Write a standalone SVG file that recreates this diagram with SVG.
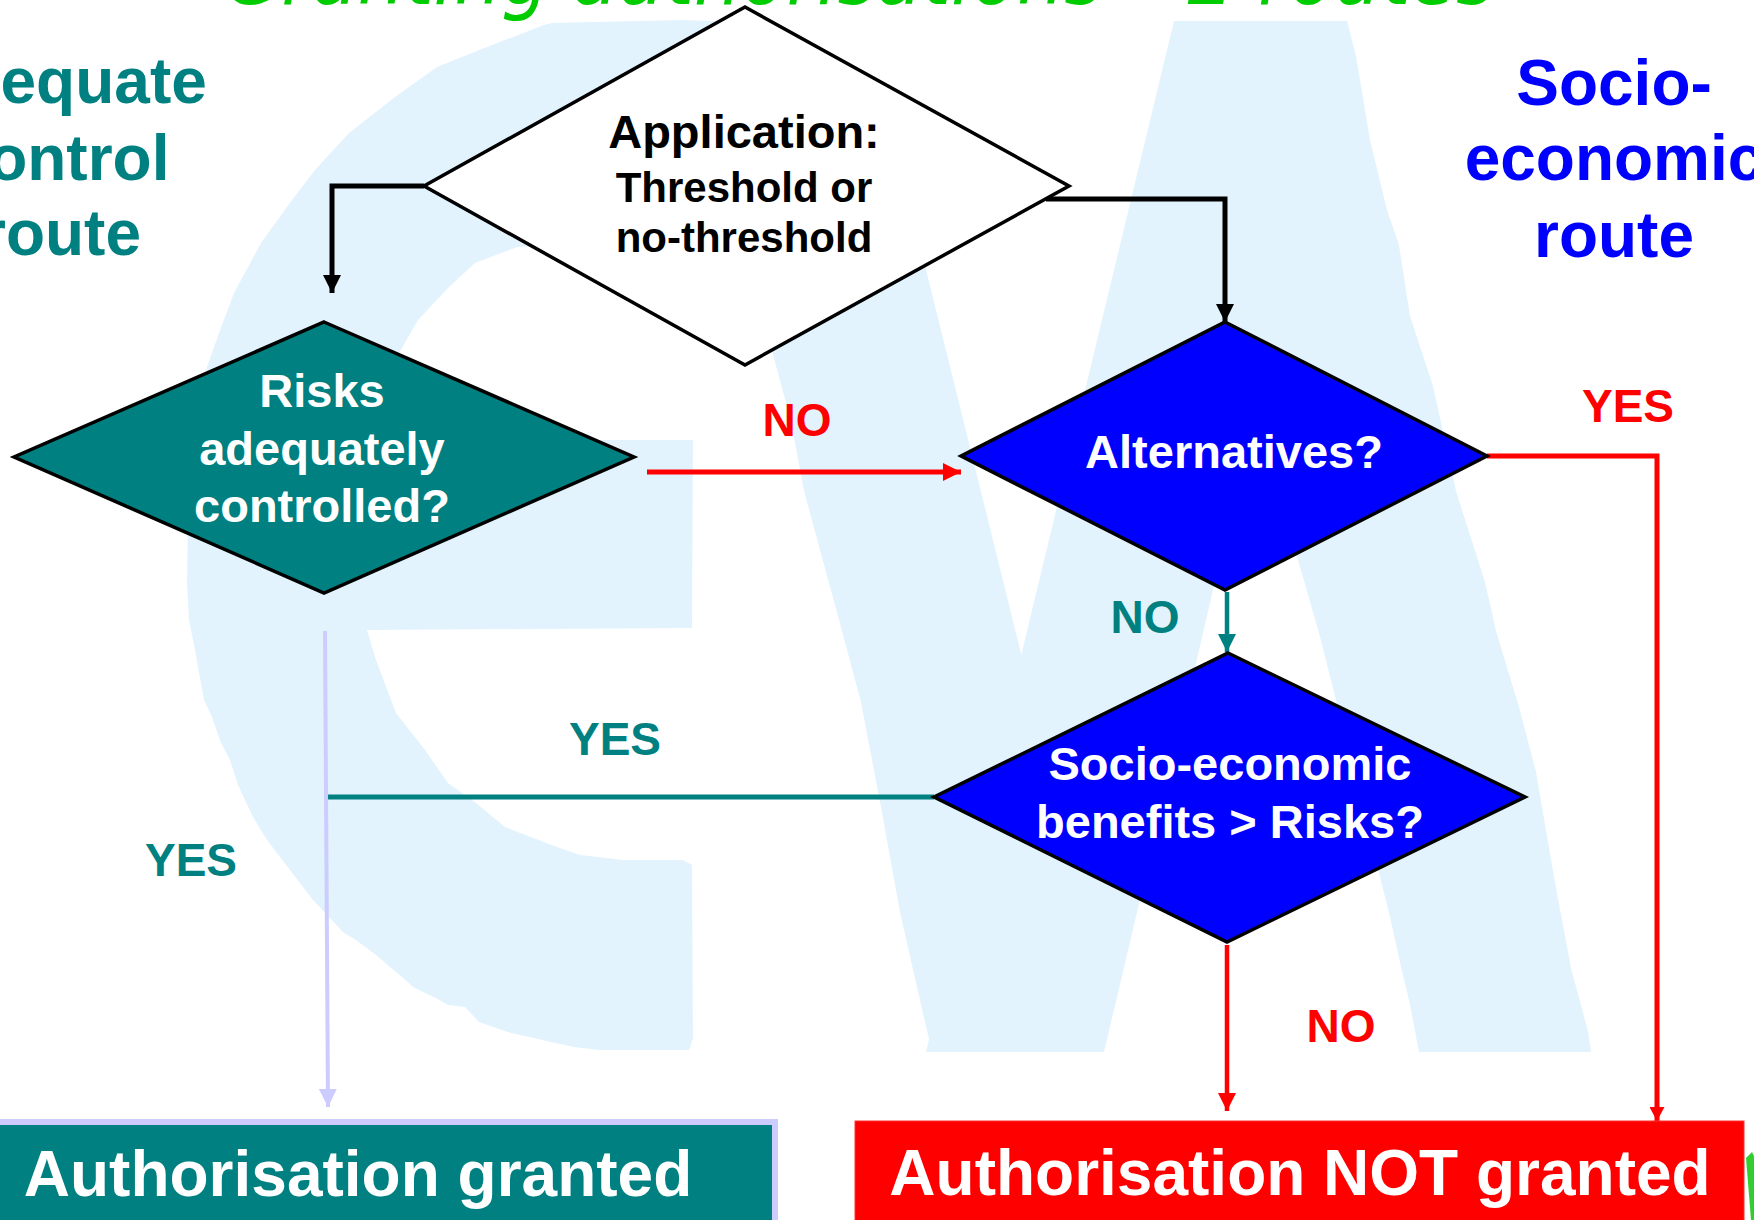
<svg xmlns="http://www.w3.org/2000/svg" width="1754" height="1220" viewBox="0 0 1754 1220">
<defs>
<style>
.t{font-family:"Liberation Sans",Arial,sans-serif;font-weight:bold;text-anchor:middle}
.lab{font-size:46px}
.dt{font-size:47px;fill:#ffffff}
.big{font-size:64px}
.wm{fill:#E2F3FD}
.dia{stroke:#000;stroke-width:3.5;stroke-linejoin:miter}
.c{fill:none}
</style>
<marker id="ab" viewBox="0 0 18 18" refX="18" refY="9" markerWidth="18" markerHeight="18" markerUnits="userSpaceOnUse" orient="auto"><path d="M0,0 L18,9 L0,18 z" fill="#000"/></marker>
<marker id="ar" viewBox="0 0 18 18" refX="18" refY="9" markerWidth="18" markerHeight="18" markerUnits="userSpaceOnUse" orient="auto"><path d="M0,0 L18,9 L0,18 z" fill="#FF0000"/></marker>
<marker id="ar2" viewBox="0 0 14 15" refX="14" refY="7.5" markerWidth="14" markerHeight="15" markerUnits="userSpaceOnUse" orient="auto"><path d="M0,0 L14,7.5 L0,15 z" fill="#FF0000"/></marker>
<marker id="at" viewBox="0 0 18 18" refX="18" refY="9" markerWidth="18" markerHeight="18" markerUnits="userSpaceOnUse" orient="auto"><path d="M0,0 L18,9 L0,18 z" fill="#008080"/></marker>
<marker id="al" viewBox="0 0 18 18" refX="18" refY="9" markerWidth="18" markerHeight="18" markerUnits="userSpaceOnUse" orient="auto"><path d="M0,0 L18,9 L0,18 z" fill="#CCCCFF"/></marker>
</defs>
<rect x="0" y="0" width="1754" height="1220" fill="#ffffff"/>

<g id="watermark">
<polygon class="wm" points="740,22 682,20 552,23 544,25 487,47 437,67 395,97 349,133 315,170 292,200 261,243 234,293 219,333 207,367 189,467 187,583 189,620 195,650 204,700 212,717 221,743 230,760 238,785 253,817 267,840 313,900 344,933 356,940 376,955 390,967 402,977 413,987 425,993 436,998 448,1005 465,1007 479,1022 511,1033 534,1038 551,1042 574,1047 600,1050 689,1050 693,1038 692,865 683,860 623,860 580,855 557,847 505,827 476,803 448,783 425,750 396,713 376,660 367,630 692,628 693,440 380,440 385,400 399,353 418,320 449,287 475,263 517,247 560,245 740,100"/>
<polygon class="wm" points="715,100 884,100 1040,730 1000,1052 932,1052 919,996 900,912 881,807 861,702 842,631 823,561 804,491 791,421 772,351"/>
<polygon class="wm" points="1174,21 1347,21 1356,56 1370,140 1387,210 1399,245 1410,316 1433,386 1456,491 1485,582 1496,631 1519,707 1536,772 1554,877 1571,968 1588,1031 1591,1052 1419,1052 1409,1000 1401,967 1390,917 1379,873 1336,700 1319,633 1298,560 1257,400 1197,659 1104,1052 926,1052 1021,656"/>
</g>

<text x="224" y="4" font-family="'DejaVu Sans','Liberation Sans',sans-serif" font-style="italic" font-size="82" fill="#00CC00" textLength="1271" lengthAdjust="spacingAndGlyphs">Granting authorisations – 2 routes</text>

<g id="route-labels">
<text class="t big" fill="#008080"><tspan x="61" y="103">Adequate</tspan><tspan x="61" y="180">control</tspan><tspan x="61" y="255">route</tspan></text>
<text class="t big" fill="#0000FF"><tspan x="1614" y="105">Socio-</tspan><tspan x="1614" y="180">economic</tspan><tspan x="1614" y="257">route</tspan></text>
</g>

<g id="connectors">
<path class="c" d="M424,186 H332 V293" stroke="#000" stroke-width="5" marker-end="url(#ab)"/>
<path class="c" d="M1046,199 H1225 V322" stroke="#000" stroke-width="5" marker-end="url(#ab)"/>
<path class="c" d="M647,472 H961" stroke="#FF0000" stroke-width="5" marker-end="url(#ar)"/>
<path class="c" d="M1487,456 H1657 V1121" stroke="#FF0000" stroke-width="5" marker-end="url(#ar2)"/>
<path class="c" d="M1227,592 V652" stroke="#008080" stroke-width="4.5" marker-end="url(#at)"/>
<path class="c" d="M934,797 H327" stroke="#008080" stroke-width="5"/>
<path class="c" d="M1227,945 V1111" stroke="#FF0000" stroke-width="4.5" marker-end="url(#ar)"/>
<path class="c" d="M325,631 L328,1107" stroke="#CCCCFF" stroke-width="4" marker-end="url(#al)"/>
</g>

<g id="n-application">
<polygon class="dia" points="745,7 1069,186 745,365 424,186" fill="#ffffff" stroke-width="3"/>
<text class="t" font-size="47" x="744" y="148" fill="#000">Application:</text>
<text class="t" font-size="42" x="744" y="202" fill="#000">Threshold or</text>
<text class="t" font-size="42" x="744" y="252" fill="#000">no-threshold</text>
</g>

<g id="n-risks">
<polygon class="dia" points="324,322 634,457 324,593 14,457" fill="#008080"/>
<text class="t dt"><tspan x="322" y="407">Risks</tspan><tspan x="322" y="465">adequately</tspan><tspan x="322" y="522">controlled?</tspan></text>
</g>

<g id="n-alternatives">
<polygon class="dia" points="1225,322 1487,456 1225,590 961,456" fill="#0000FF"/>
<text class="t dt" x="1234" y="468">Alternatives?</text>
</g>

<g id="n-socio">
<polygon class="dia" points="1228,653 1525,797 1227,942 934,797" fill="#0000FF"/>
<text class="t dt"><tspan x="1230" y="780">Socio-economic</tspan><tspan x="1230" y="838">benefits &gt; Risks?</tspan></text>
</g>

<g id="edge-labels">
<text class="t lab" x="797" y="436" fill="#FF0000">NO</text>
<text class="t lab" x="1628" y="422" fill="#FF0000">YES</text>
<text class="t lab" x="1145" y="633" fill="#008080">NO</text>
<text class="t lab" x="615" y="755" fill="#008080">YES</text>
<text class="t lab" x="191" y="876" fill="#008080">YES</text>
<text class="t lab" x="1341" y="1042" fill="#FF0000">NO</text>
</g>

<g id="n-granted">
<rect x="-60" y="1122" width="835" height="120" fill="#008080" stroke="#CCCCFF" stroke-width="6"/>
<text class="t big" x="358" y="1196" fill="#ffffff">Authorisation granted</text>
</g>

<g id="n-not-granted">
<rect x="855" y="1121" width="889" height="110" fill="#FF0000" stroke="#FF3030" stroke-width="1"/>
<text class="t big" x="1300" y="1195" fill="#ffffff">Authorisation NOT granted</text>
</g>

<polygon points="1746,1158 1752,1152 1754,1156 1754,1220 1751,1220" fill="#33CC33"/>
</svg>
